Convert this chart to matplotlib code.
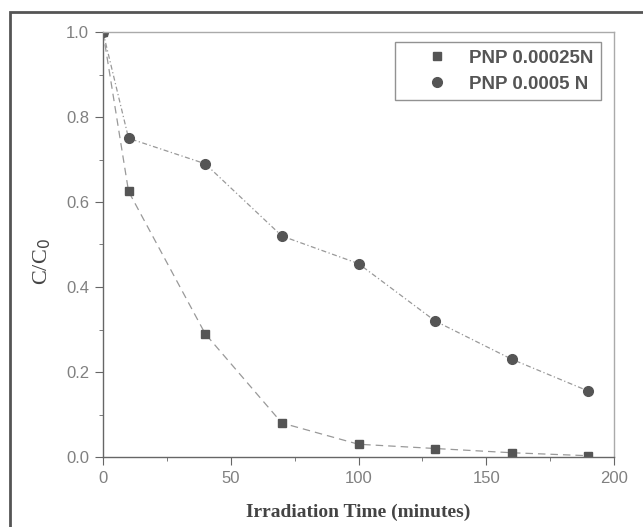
import matplotlib
matplotlib.use("Agg")
import matplotlib.pyplot as plt
from matplotlib.patches import Rectangle
from matplotlib.ticker import MultipleLocator

# data
time_min = [0, 10, 40, 70, 100, 130, 160, 190]
pnp_00025 = [1.0, 0.625, 0.29, 0.08, 0.03, 0.02, 0.01, 0.003]
pnp_0005 = [1.0, 0.75, 0.69, 0.52, 0.455, 0.32, 0.23, 0.155]
labels = ["PNP 0.00025N", "PNP 0.0005 N"]

fig = plt.figure(figsize=(6.43, 5.27), dpi=100)
ax = fig.add_axes([103/643, 1-457/527, (614-103)/643, (457-32)/527])

#outer scanned frame (right and bottom edges fall off the page)
fig.patches.append(Rectangle((10/643, -0.05), 1.0, 1-12/527+0.05, transform=fig.transFigure,
                             fill=False, edgecolor="#555555", linewidth=2.0))

ax.plot(time_min, pnp_00025, color="#999999", linestyle=(0, (6, 4)), linewidth=0.9,
        marker="s", markersize=6, markerfacecolor="#555555", markeredgecolor="#555555",
        label=labels[0])
ax.plot(time_min, pnp_0005, color="#999999", linestyle=(0, (4, 2, 1, 2)), linewidth=0.9,
        marker="o", markersize=7, markerfacecolor="#555555", markeredgecolor="#555555",
        label=labels[1])

ax.set_xlim(0, 200)
ax.set_ylim(0, 1.0)
ax.xaxis.set_major_locator(MultipleLocator(50))
ax.xaxis.set_minor_locator(MultipleLocator(25))
ax.yaxis.set_major_locator(MultipleLocator(0.2))
ax.yaxis.set_minor_locator(MultipleLocator(0.1))
ax.yaxis.set_major_formatter(matplotlib.ticker.FormatStrFormatter("%.1f"))

for s in ax.spines.values():
    s.set_color("#666666")
    s.set_linewidth(1.0)
ax.spines["top"].set_color("#aaaaaa")
ax.spines["right"].set_color("#aaaaaa")
ax.tick_params(which="both", direction="out", colors="#666666", labelcolor="#808080",
               top=False, right=False)
ax.tick_params(which="major", length=6, labelsize=12, pad=4)
ax.tick_params(which="minor", length=3)
for t in ax.get_xticklabels() + ax.get_yticklabels():
    t.set_family("Liberation Sans")

ax.set_xlabel("Irradiation Time (minutes)", family="Liberation Serif", fontweight="bold",
              fontsize=14, color="#444444", labelpad=13)
ax.set_ylabel("C/C$_0$", family="Liberation Serif", fontsize=16, color="#444444")
ax.yaxis.set_label_coords(-0.098, 0.46)

leg = ax.legend(loc="upper right", bbox_to_anchor=(0.975, 0.977), borderaxespad=0,
                frameon=True, fancybox=False,
                prop={"family": "Liberation Sans", "weight": "bold", "size": 13.5},
                handlelength=3.6, borderpad=0.42, labelspacing=0.46, handletextpad=-0.1)
leg.get_frame().set_edgecolor("#777777")
leg.get_frame().set_linewidth(1.0)
for line in leg.get_lines():
    line.set_linestyle("none")
for txt in leg.get_texts():
    txt.set_color("#555555")

fig.savefig("out.png", dpi=100)
